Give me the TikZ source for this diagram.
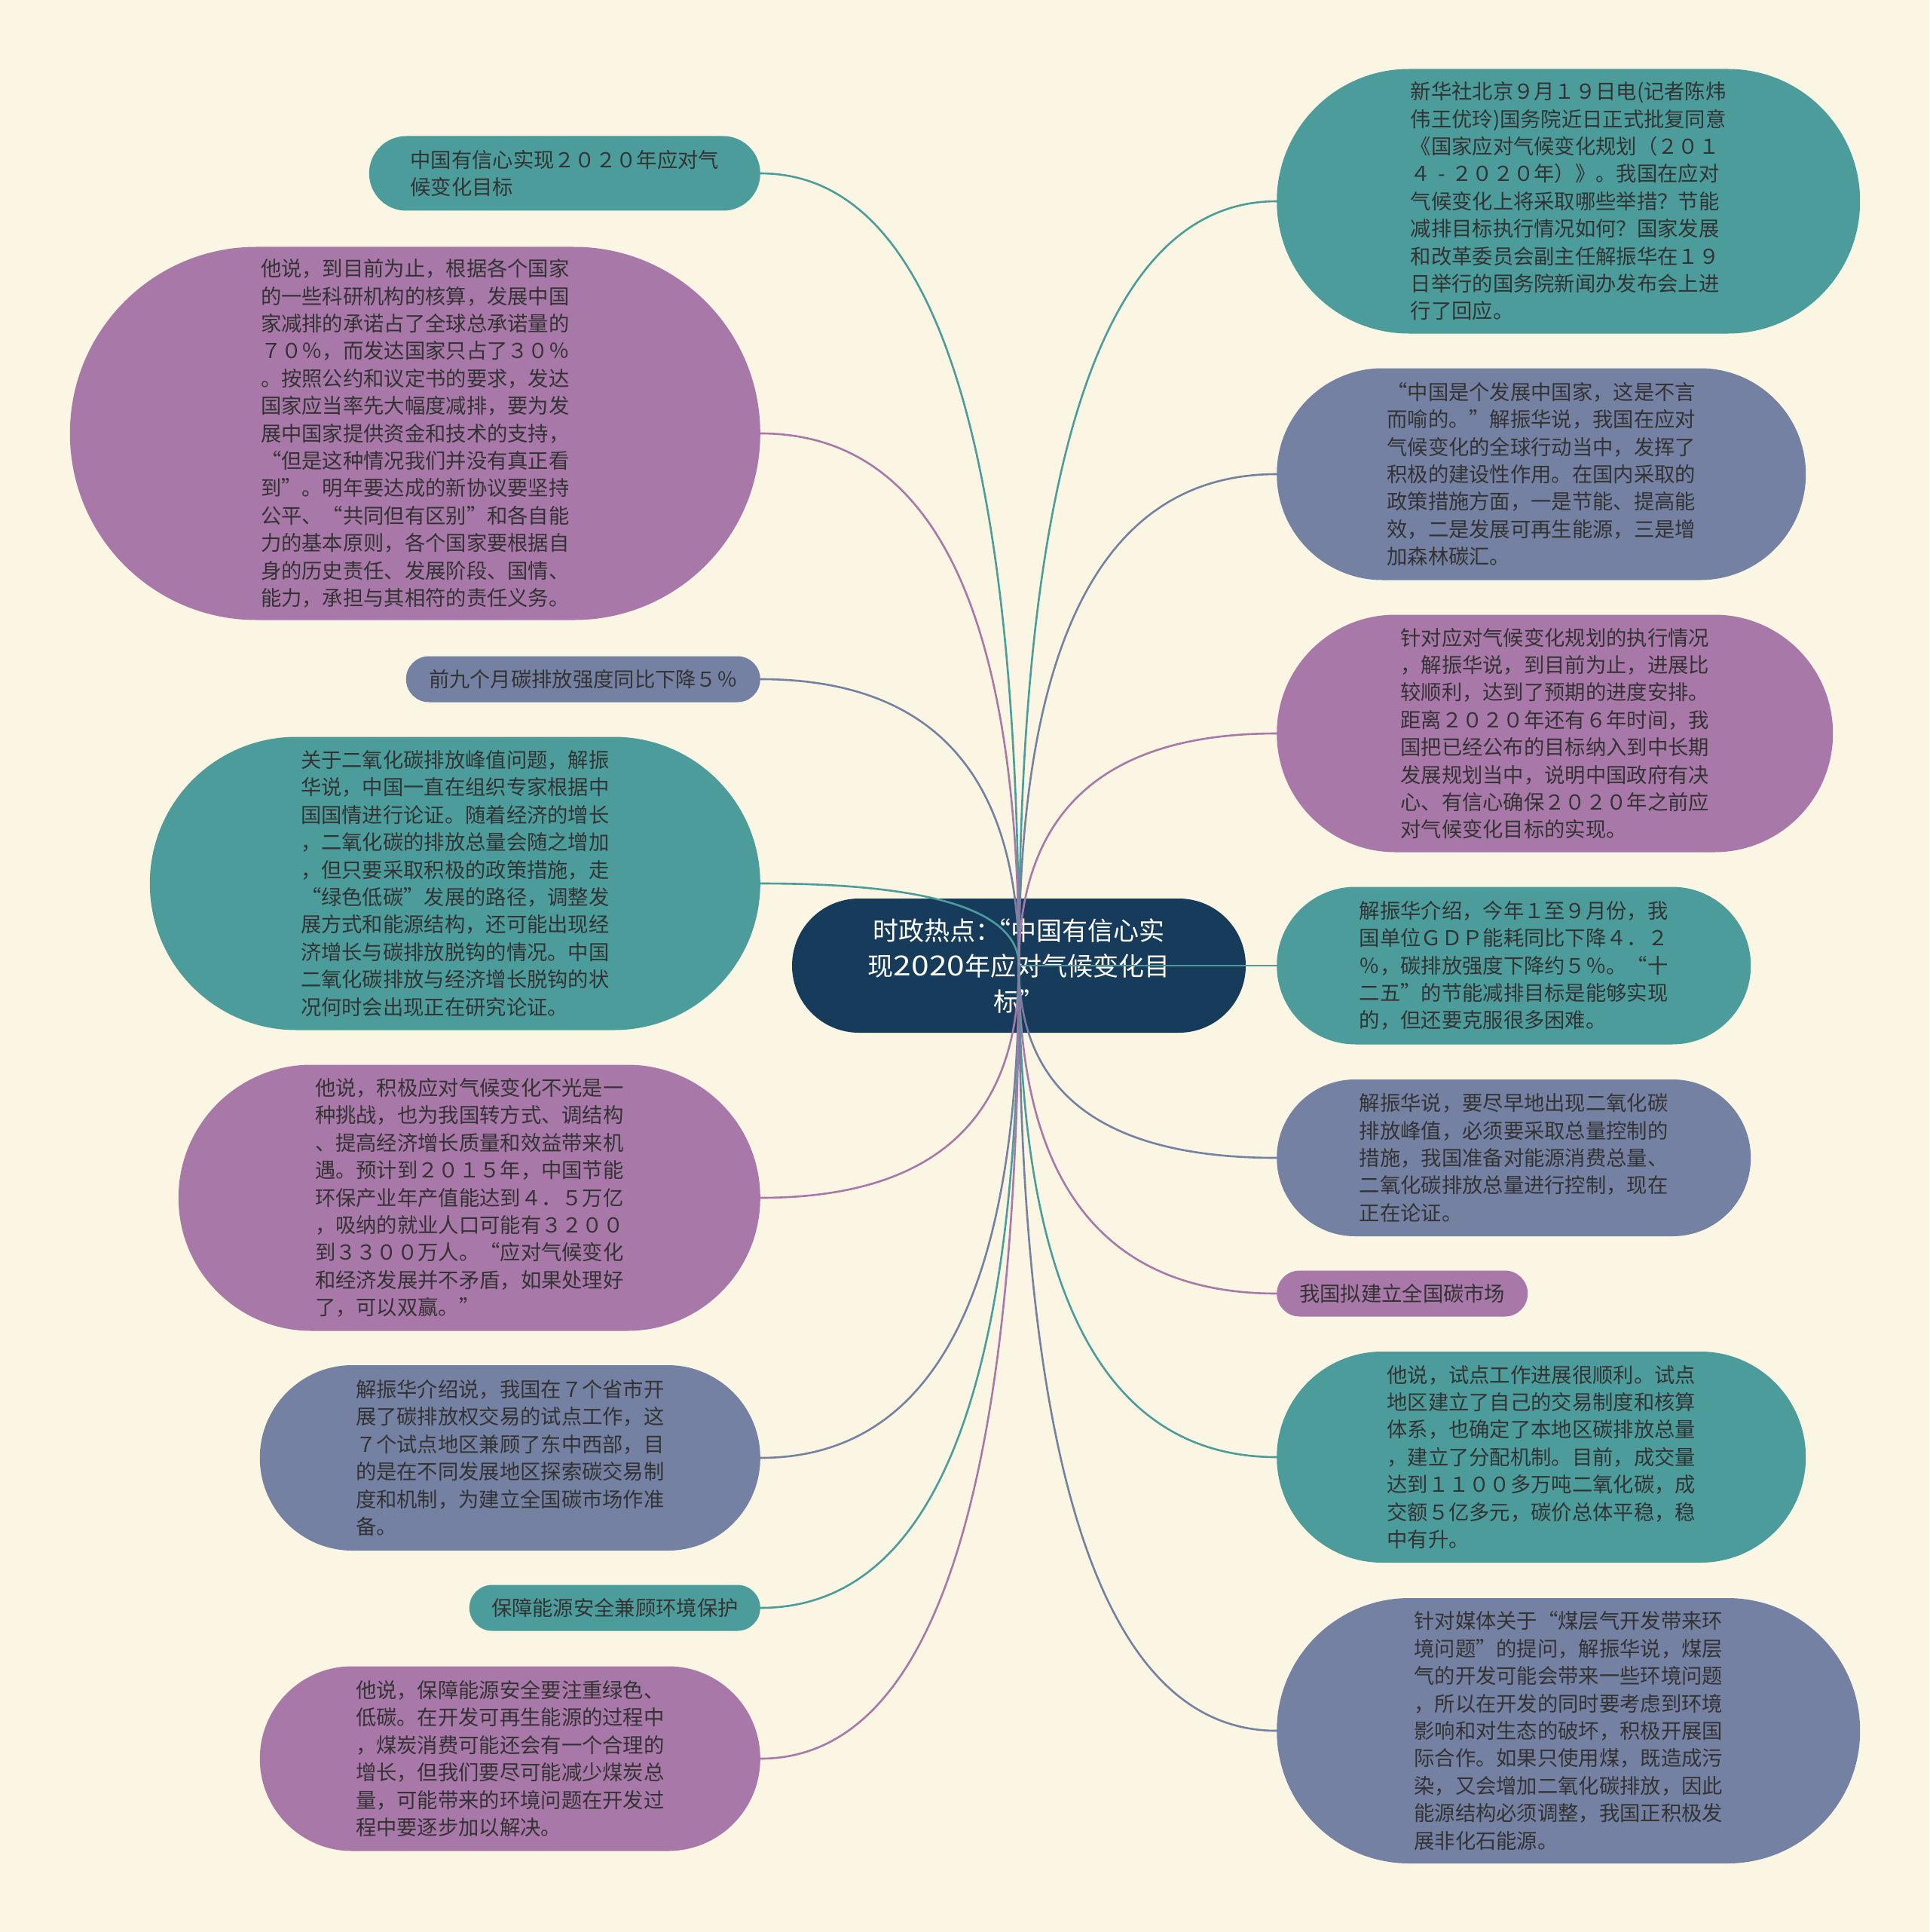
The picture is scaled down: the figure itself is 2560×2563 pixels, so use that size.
\documentclass[tikz,border=0pt]{standalone}
\usepackage{fontspec}
\usepackage{graphicx}
\setmainfont{Noto Sans CJK SC}
\usetikzlibrary{calc}
\definecolor{bgc}{HTML}{FAF6E3}
\definecolor{tealc}{HTML}{4C9C9C}
\definecolor{slatec}{HTML}{7581A2}
\definecolor{purpc}{HTML}{A878A8}
\definecolor{navyc}{HTML}{173C5B}
\definecolor{txtc}{HTML}{333333}
\begin{document}
\begin{tikzpicture}[x=1pt,y=-1pt,
  kid/.style={inner sep=0pt, text=txtc, align=left, font={\fontsize{27.3pt}{36.4pt}\selectfont}},
  lkid/.style={kid, anchor=east},
  rkid/.style={kid, anchor=west},
  conn/.style={line width=2.6pt}]
\fill[bgc] (0,0) rectangle (2560,2563);
\useasboundingbox (0,0) rectangle (2560,2563);

% centre
\node[inner sep=0pt, fill=navyc, text=white, align=center, minimum width=602pt, minimum height=178pt, rounded corners=88.9pt,
  font={\fontsize{34pt}{47pt}\selectfont}] (C) at (1352,1281)
  {时政热点：\kern-0.6em“中国有信心实\\现\scalebox{1.25}[1.08]{2020}年应对气候变化目\\标”};

% left side
\node[lkid, fill=tealc, minimum width=519pt, minimum height=99pt, rounded corners=49.4pt] (L1) at (1009,230)
  {中国有信心实现２０２０年应对气\\候变化目标};
\node[lkid, fill=purpc, minimum width=916pt, minimum height=495pt, rounded corners=247.4pt] (L2) at (1009,575)
  {他说，到目前为止，根据各个国家\\的一些科研机构的核算，发展中国\\家减排的承诺占了全球总承诺量的\\７０％，而发达国家只占了３０％\\。按照公约和议定书的要求，发达\\国家应当率先大幅度减排，要为发\\展中国家提供资金和技术的支持，\\“但是这种情况我们并没有真正看\\到”。明年要达成的新协议要坚持\\公平、“共同但有区别”和各自能\\力的基本原则，各个国家要根据自\\身的历史责任、发展阶段、国情、\\能力，承担与其相符的责任义务。};
\node[lkid, fill=slatec, minimum width=470pt, minimum height=61pt, rounded corners=30.4pt] (L3) at (1009,901)
  {前九个月碳排放强度同比下降５％};
\node[lkid, fill=tealc, minimum width=810pt, minimum height=389pt, rounded corners=194.4pt] (L4) at (1009,1172)
  {关于二氧化碳排放峰值问题，解振\\华说，中国一直在组织专家根据中\\国国情进行论证。随着经济的增长\\，二氧化碳的排放总量会随之增加\\，但只要采取积极的政策措施，走\\“绿色低碳”发展的路径，调整发\\展方式和能源结构，还可能出现经\\济增长与碳排放脱钩的情况。中国\\二氧化碳排放与经济增长脱钩的状\\况何时会出现正在研究论证。};
\node[lkid, fill=purpc, minimum width=772pt, minimum height=353pt, rounded corners=176.4pt] (L5) at (1009,1589)
  {他说，积极应对气候变化不光是一\\种挑战，也为我国转方式、调结构\\、提高经济增长质量和效益带来机\\遇。预计到２０１５年，中国节能\\环保产业年产值能达到４．５万亿\\，吸纳的就业人口可能有３２００\\到３３００万人。“应对气候变化\\和经济发展并不矛盾，如果处理好\\了，可以双赢。”};
\node[lkid, fill=slatec, minimum width=664pt, minimum height=246pt, rounded corners=122.9pt] (L6) at (1009,1934)
  {解振华介绍说，我国在７个省市开\\展了碳排放权交易的试点工作，这\\７个试点地区兼顾了东中西部，目\\的是在不同发展地区探索碳交易制\\度和机制，为建立全国碳市场作准\\备。};
\node[lkid, fill=tealc, minimum width=386pt, minimum height=61pt, rounded corners=30.4pt] (L7) at (1009,2133)
  {保障能源安全兼顾环境保护};
\node[lkid, fill=purpc, minimum width=664pt, minimum height=245pt, rounded corners=122.4pt] (L8) at (1009,2333)
  {他说，保障能源安全要注重绿色、\\低碳。在开发可再生能源的过程中\\，煤炭消费可能还会有一个合理的\\增长，但我们要尽可能减少煤炭总\\量，可能带来的环境问题在开发过\\程中要逐步加以解决。};

% right side
\node[rkid, fill=tealc, minimum width=774pt, minimum height=351pt, rounded corners=175.4pt] (R1) at (1694,267)
  {新华社北京９月１９日电(记者陈炜\\伟王优玲)国务院近日正式批复同意\\《国家应对气候变化规划（２０１\\４\makebox[1em]{-}２０２０年）》。我国在应对\\气候变化上将采取哪些举措？节能\\减排目标执行情况如何？国家发展\\和改革委员会副主任解振华在１９\\日举行的国务院新闻办发布会上进\\行了回应。};
\node[rkid, fill=slatec, minimum width=702pt, minimum height=281pt, rounded corners=140.4pt] (R2) at (1694,629)
  {“中国是个发展中国家，这是不言\\而喻的。”解振华说，我国在应对\\气候变化的全球行动当中，发挥了\\积极的建设性作用。在国内采取的\\政策措施方面，一是节能、提高能\\效，二是发展可再生能源，三是增\\加森林碳汇。};
\node[rkid, fill=purpc, minimum width=738pt, minimum height=315pt, rounded corners=157.4pt] (R3) at (1694,973)
  {针对应对气候变化规划的执行情况\\，解振华说，到目前为止，进展比\\较顺利，达到了预期的进度安排。\\距离２０２０年还有６年时间，我\\国把已经公布的目标纳入到中长期\\发展规划当中，说明中国政府有决\\心、有信心确保２０２０年之前应\\对气候变化目标的实现。};
\node[rkid, fill=tealc, minimum width=629pt, minimum height=209pt, rounded corners=104.4pt] (R4) at (1694,1281)
  {解振华介绍，今年１至９月份，我\\国单位ＧＤＰ能耗同比下降４．２\\％，碳排放强度下降约５％。“十\\二五”的节能减排目标是能够实现\\的，但还要克服很多困难。};
\node[rkid, fill=slatec, minimum width=629pt, minimum height=208pt, rounded corners=103.9pt] (R5) at (1694,1536)
  {解振华说，要尽早地出现二氧化碳\\排放峰值，必须要采取总量控制的\\措施，我国准备对能源消费总量、\\二氧化碳排放总量进行控制，现在\\正在论证。};
\node[rkid, fill=purpc, minimum width=333pt, minimum height=61pt, rounded corners=30.4pt] (R6) at (1694,1716)
  {我国拟建立全国碳市场};
\node[rkid, fill=tealc, minimum width=702pt, minimum height=280pt, rounded corners=139.9pt] (R7) at (1694,1933)
  {他说，试点工作进展很顺利。试点\\地区建立了自己的交易制度和核算\\体系，也确定了本地区碳排放总量\\，建立了分配机制。目前，成交量\\达到１１００多万吨二氧化碳，成\\交额５亿多元，碳价总体平稳，稳\\中有升。};
\node[rkid, fill=slatec, minimum width=774pt, minimum height=352pt, rounded corners=175.9pt] (R8) at (1694,2296)
  {针对媒体关于“煤层气开发带来环\\境问题”的提问，解振华说，煤层\\气的开发可能会带来一些环境问题\\，所以在开发的同时要考虑到环境\\影响和对生态的破坏，积极开展国\\际合作。如果只使用煤，既造成污\\染，又会增加二氧化碳排放，因此\\能源结构必须调整，我国正积极发\\展非化石能源。};

% connectors
\foreach \n/\a/\col in {L1/east/tealc, L2/east/purpc, L3/east/slatec, L4/east/tealc, L5/east/purpc, L6/east/slatec, L7/east/tealc, L8/east/purpc, R1/west/tealc, R2/west/slatec, R3/west/purpc, R4/west/tealc, R5/west/slatec, R6/west/purpc, R7/west/tealc, R8/west/slatec}
  \draw[conn, draw=\col] (C.center) .. controls ($(C.center)!0.667!(C.center|-\n.\a)$) and ($(\n.\a)!0.667!(C.center|-\n.\a)$) .. (\n.\a);
\end{tikzpicture}
\end{document}
